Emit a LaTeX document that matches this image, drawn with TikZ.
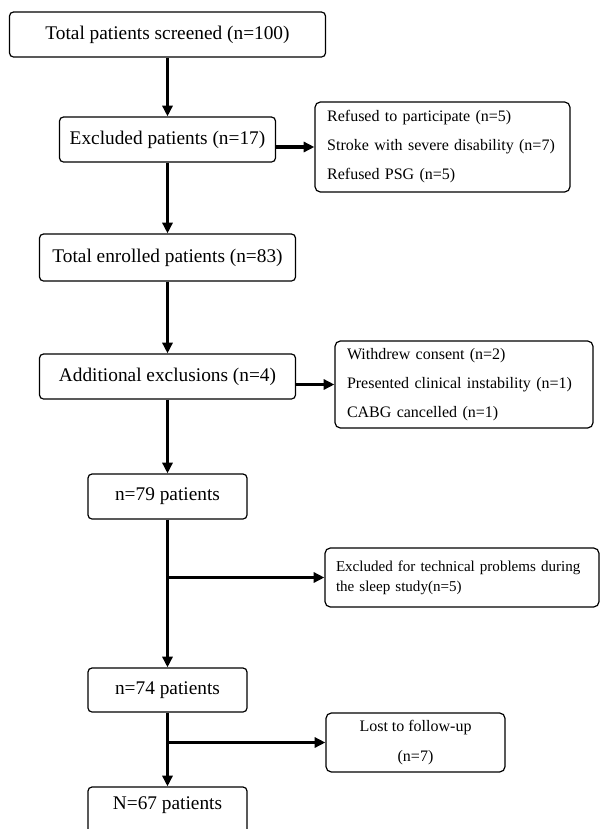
\documentclass[tikz,border=0pt]{standalone}
\usepackage{fontspec}
\setmainfont{Liberation Serif}
\usetikzlibrary{arrows.meta}
\begin{document}
\begin{tikzpicture}[x=0.75pt,y=-0.75pt,
  box/.style={draw, line width=0.9pt, rounded corners=3pt, inner sep=0pt,
    font=\fontsize{14.5}{17}\selectfont},
  side/.style={draw, line width=0.9pt, rounded corners=4pt, inner sep=0pt,
    align=left, font=\fontsize{12}{21.75}\selectfont},
  flow/.style={line width=2.4pt, -{Triangle[length=8pt,width=7.5pt]}},
]
\useasboundingbox (0,0) rectangle (601,829);
\fill[white] (0,0) rectangle (601,829);
\clip (0,0) rectangle (601,829);

% left column
\node[box, minimum width=237pt, minimum height=33.75pt] (B1) at (167.5,34.5) {Total patients screened (n=100)};
\node[box, minimum width=162pt, minimum height=33.75pt] (B2) at (167.5,139.5) {Excluded patients (n=17)};
\node[box, minimum width=192pt, minimum height=35.25pt] (B3) at (167.5,257.5) {Total enrolled patients (n=83)};
\node[box, minimum width=192pt, minimum height=33.75pt] (B4) at (167.5,376.5) {Additional exclusions (n=4)};
\node[box, minimum width=119.25pt, minimum height=33.75pt] (B5) at (167.5,496.5) {n=79 patients};
\node[box, minimum width=119.25pt, minimum height=33pt] (B6) at (167.5,690) {n=74 patients};
\node[box, minimum width=119.25pt, minimum height=45pt, text height=10pt, text depth=21pt] (B7) at (167.5,817) {N=67 patients};

% right column
\node[side, minimum width=191.25pt, minimum height=67.5pt, text width=173pt] (R1) at (442.5,147)
  {Refused to participate (n=5)\\Stroke with severe disability (n=7)\\Refused PSG (n=5)};
\node[side, minimum width=193.5pt, minimum height=65.25pt, text width=175.5pt] (R2) at (464,384.5)
  {Withdrew consent (n=2)\\Presented clinical instability (n=1)\\CABG cancelled (n=1)};
\node[side, minimum width=205.5pt, minimum height=44.25pt, text width=189pt,
  font=\fontsize{11.3}{15}\selectfont] (R3) at (462,577.5)
  {\mbox{Excluded for technical problems during}\\the sleep study(n=5)};
\node[side, minimum width=134.25pt, minimum height=44.25pt, align=center,
  font=\fontsize{12}{22.5}\selectfont] (R4) at (415.5,742.5)
  {Lost to follow-up\\(n=7)};

% connectors
\draw[flow] (B1.south) -- (B2.north);
\draw[flow] (B2.east |- R1.west) -- (R1.west);
\draw[flow] (B2.south) -- (B3.north);
\draw[flow] (B3.south) -- (B4.north);
\draw[flow] (B4.east |- R2.west) -- (R2.west);
\draw[flow] (B4.south) -- (B5.north);
\draw[flow] (B5.south) -- (B6.north);
\coordinate (j1) at (B5.south |- R3.west);
\draw[flow] (j1) -- (R3.west);
\draw[flow] (B6.south) -- (B7.north);
\coordinate (j2) at (B6.south |- R4.west);
\draw[flow] (j2) -- (R4.west);
\end{tikzpicture}
\end{document}
